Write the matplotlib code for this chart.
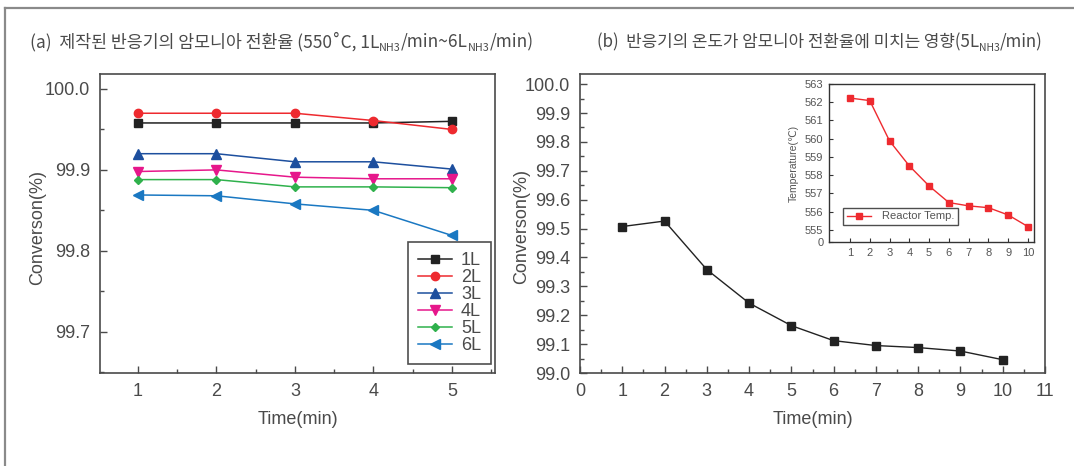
import matplotlib
matplotlib.use("Agg")
import matplotlib.pyplot as plt
from matplotlib.ticker import MultipleLocator, FixedLocator, FixedFormatter, FormatStrFormatter
from matplotlib.lines import Line2D

# ---------------- data ----------------
time_a = [1, 2, 3, 4, 5]
conv_1L = [99.958, 99.958, 99.958, 99.958, 99.960]
conv_2L = [99.970, 99.970, 99.970, 99.961, 99.950]
conv_3L = [99.920, 99.920, 99.910, 99.910, 99.901]
conv_4L = [99.898, 99.900, 99.891, 99.889, 99.889]
conv_5L = [99.888, 99.888, 99.879, 99.879, 99.878]
conv_6L = [99.869, 99.868, 99.858, 99.850, 99.819]
series_labels = ["1L", "2L", "3L", "4L", "5L", "6L"]

time_b = [1, 2, 3, 4, 5, 6, 7, 8, 9, 10]
conv_b = [99.507, 99.526, 99.358, 99.242, 99.164, 99.112, 99.095, 99.088, 99.076, 99.046]
temp_b = [562.23, 562.09, 559.88, 558.51, 557.41, 556.50, 556.32, 556.22, 555.82, 555.18]

inset_yticks = [555, 556, 557, 558, 559, 560, 561, 562, 563]

title_a = [("(a)  제작된 반응기의 암모니아 전환율 (550˚C, 1L", False), ("NH3", True),
           ("/min~6L", False), ("NH3", True), ("/min)", False)]
title_b = [("(b)  반응기의 온도가 암모니아 전환율에 미치는 영향(5L", False), ("NH3", True),
           ("/min)", False)]

# ---------------- style ----------------
W, H = 1074, 466
NUM = ["Liberation Sans", "DejaVu Sans"]
KOR = ["Noto Sans CJK KR", "DejaVu Sans"]
TXT = "#4a4a4a"
SPINE = "#4a4a4a"

plt.rcParams["font.family"] = NUM

fig = plt.figure(figsize=(W / 100, H / 100), dpi=100)
fig.patch.set_facecolor("white")


def px_axes(l, t, r, b):
    return fig.add_axes([l / W, (H - b) / H, (r - l) / W, (b - t) / H])


def style_axes(ax, lsize=13):
    for s in ax.spines.values():
        s.set_color(SPINE)
        s.set_linewidth(1.2)
    ax.tick_params(which="both", direction="in", colors=SPINE, labelcolor=TXT,
                   labelsize=lsize, pad=7)
    ax.tick_params(which="major", length=5, width=1)
    ax.tick_params(which="minor", length=3, width=1)


# ---------------- panel (a) ----------------
axa = px_axes(100, 74, 495, 373)
style_axes(axa)
styles = [
    ("#222222", "s", 5.5), ("#ee2a2f", "o", 6), ("#1d4f9e", "^", 6.5),
    ("#e6178b", "v", 6.5), ("#2fb14c", "D", 4), ("#1a78c2", "<", 6.5),
]
for vals, lab, (c, m, ms) in zip([conv_1L, conv_2L, conv_3L, conv_4L, conv_5L, conv_6L],
                                 series_labels, styles):
    axa.plot(time_a, vals, color=c, marker=m, ms=ms, lw=1.1, label=lab)
axa.set_xlim(0.516, 5.55)
axa.set_ylim(99.649, 100.0185)
axa.xaxis.set_major_locator(MultipleLocator(1))
axa.xaxis.set_minor_locator(MultipleLocator(0.5))
axa.yaxis.set_major_locator(MultipleLocator(0.1))
axa.yaxis.set_minor_locator(MultipleLocator(0.05))
axa.yaxis.set_major_formatter(FormatStrFormatter("%.1f"))
axa.set_xlabel("Time(min)", fontsize=13, color=TXT, labelpad=8)
axa.set_ylabel("Converson(%)", fontsize=13, color=TXT)
axa.yaxis.set_label_coords(-0.137, 0.485)
leg = axa.legend(loc="lower right", bbox_to_anchor=(0.990, 0.03), borderaxespad=0,
                 fontsize=13, frameon=True, fancybox=False, edgecolor="#222222",
                 handlelength=1.9, labelspacing=0.0, borderpad=0.55, handletextpad=0.5,
                 labelcolor=TXT)
leg.get_frame().set_linewidth(1.2)

# ---------------- panel (b) ----------------
axb = px_axes(580, 74, 1045, 373)
style_axes(axb, 13)
axb.plot(time_b, conv_b, color="#222222", marker="s", ms=5.5, lw=1.0)
axb.set_xlim(0, 11)
axb.set_ylim(99.0, 100.035)
axb.xaxis.set_major_locator(MultipleLocator(1))
axb.xaxis.set_minor_locator(MultipleLocator(0.5))
axb.yaxis.set_major_locator(MultipleLocator(0.1))
axb.yaxis.set_minor_locator(MultipleLocator(0.05))
axb.yaxis.set_major_formatter(FormatStrFormatter("%.1f"))
axb.set_xlabel("Time(min)", fontsize=13, color=TXT, labelpad=8)
axb.set_ylabel("Converson(%)", fontsize=13, color=TXT)
axb.yaxis.set_label_coords(-0.108, 0.49)

# inset
axi = px_axes(829, 84, 1034, 242)
for s in axi.spines.values():
    s.set_color("#333333")
    s.set_linewidth(1.0)
axi.plot(time_b, temp_b, color="#ee2a2f", marker="s", ms=4, lw=1.0, label="Reactor Temp.")
axi.set_xlim(-0.06, 10.3)
ybot = 554.34
axi.set_ylim(ybot, 563)
axi.xaxis.set_major_locator(FixedLocator(time_b))
axi.yaxis.set_major_locator(FixedLocator([ybot] + inset_yticks))
axi.yaxis.set_major_formatter(FixedFormatter(["0"] + [str(v) for v in inset_yticks]))
axi.tick_params(direction="in", length=3, width=0.8, colors="#333333",
                labelcolor="#555555", labelsize=8, pad=4)
axi.set_ylabel("Temperature(℃)", fontsize=7.5, color="#555555", labelpad=4)
li = axi.legend(loc="lower left", bbox_to_anchor=(0.04, 0.07), fontsize=8, frameon=True,
                fancybox=False, edgecolor="#222222", handlelength=2.2, borderpad=0.35,
                handletextpad=1.0, labelcolor="#555555")
li.get_frame().set_linewidth(1.0)

# ---------------- frame lines ----------------
fig.add_artist(Line2D([5 / W, 5 / W], [0, 1 - 8 / H], color="#8a8a8a", lw=1.6))
fig.add_artist(Line2D([5 / W, 1], [1 - 8 / H, 1 - 8 / H], color="#8a8a8a", lw=1.6))

# ---------------- rich titles ----------------
renderer = fig.canvas.get_renderer()


def rich(pieces, x0, x1, ybase, size):
    def draw(sz):
        arts = []
        x = x0
        for txt, sub in pieces:
            fs = sz * 0.62 if sub else sz
            dy = -sz * 100 / 72 * 0.22 if sub else 0
            t = fig.text(x / W, (H - ybase + dy) / H, txt, fontsize=fs, family=KOR,
                         color=TXT, ha="left", va="baseline")
            bb = t.get_window_extent(renderer)
            x += bb.width
            arts.append(t)
        return arts, x - x0
    arts, w = draw(size)
    for a in arts:
        a.remove()
    draw(size * (x1 - x0) / w)


rich(title_a, 30, 533, 47, 12)
rich(title_b, 597, 1045, 47, 12)

fig.savefig("out.png", dpi=100, facecolor="white")
